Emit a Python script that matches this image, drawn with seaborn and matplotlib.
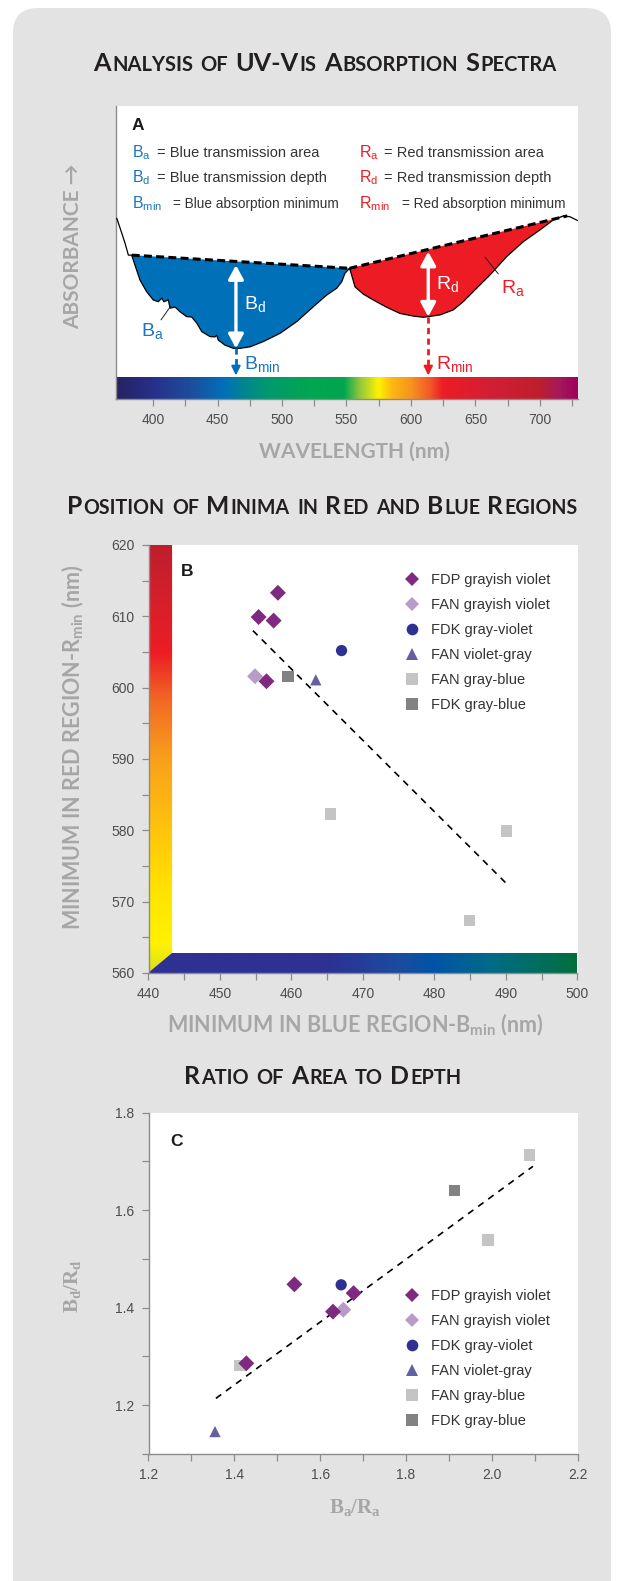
import numpy as np
import pandas as pd
import seaborn as sns
import matplotlib.pyplot as plt
from matplotlib.colors import LinearSegmentedColormap
from matplotlib.patches import FancyBboxPatch, Polygon
from matplotlib.lines import Line2D
from matplotlib.transforms import IdentityTransform
from matplotlib.ticker import FixedLocator

# ---- panel A: absorption spectrum
wl = [371.9, 375.7, 378.3, 380.9, 383.5, 386.0, 389.9, 395.1, 400.2, 404.1,
      406.7, 408.5, 411.9, 413.2, 417.1, 420.9, 426.1, 430.0, 433.9, 437.8,
      444.2, 448.1, 449.4, 450.6, 455.8, 462.2, 467.4, 475.2, 485.5, 498.4,
      511.4, 524.3, 534.7, 542.4, 546.3, 548.8, 552.4, 554.0, 556.6, 563.0,
      570.8, 581.2, 591.5, 601.8, 609.5, 613.4, 622.5, 632.8, 640.5, 650.9,
      661.2, 674.2, 687.1, 700.0, 710.3, 718.1, 723.3, 729.2]
absorb = [0.617, 0.567, 0.532, 0.491, 0.491, 0.457, 0.406, 0.366, 0.338, 0.332,
          0.344, 0.332, 0.338, 0.310, 0.314, 0.298, 0.281, 0.280, 0.259, 0.230,
          0.213, 0.212, 0.218, 0.201, 0.184, 0.173, 0.173, 0.178, 0.196, 0.224,
          0.264, 0.315, 0.355, 0.378, 0.400, 0.429, 0.446, 0.423, 0.383, 0.358,
          0.338, 0.313, 0.292, 0.283, 0.279, 0.281, 0.287, 0.304, 0.332, 0.378,
          0.423, 0.486, 0.537, 0.577, 0.611, 0.625, 0.622, 0.609]
blue_base_wl = [383.5, 552.4]
blue_base_abs = [0.491, 0.446]
red_base_wl = [552.4, 721.2]
red_base_abs = [0.446, 0.625]
b_min_wl, b_min_abs, b_base_at_min = 464.3, 0.173, 0.457
r_min_wl, r_min_abs, r_base_at_min = 613.4, 0.281, 0.503

spec_nm = [371, 400, 430, 455, 470, 490, 520, 548, 560, 575, 585, 600, 615,
           625, 660, 700, 715, 730]
spec_col = ['#262262', '#27308a', '#1d4e9e', '#0070bb', '#00858f', '#009a6e',
            '#00a651', '#00a64f', '#8dc63f', '#fff200', '#fdb913', '#f7941d',
            '#f15a29', '#ed1c24', '#d31f35', '#be1e2d', '#a6195a', '#9e005d']

# ---- panels B and C
groups = ['FDP grayish violet', 'FAN grayish violet', 'FDK gray-violet',
          'FAN violet-gray', 'FAN gray-blue', 'FDK gray-blue']
group_colors = ['#7f2a81', '#b99bc9', '#2e3192', '#6560a3', '#c4c4c4', '#828282']
group_markers = ['D', 'D', 'o', '^', 's', 's']

sample = (['FAN gray-blue'] * 3 + ['FDK gray-blue', 'FAN violet-gray',
          'FAN grayish violet', 'FDK gray-violet'] + ['FDP grayish violet'] * 4)
b_min = [465.5, 490.1, 484.9, 459.5, 463.4, 454.9, 467.0, 458.1, 455.4, 457.5, 456.5]
r_min = [582.3, 579.9, 567.4, 601.6, 601.1, 601.6, 605.2, 613.3, 609.9, 609.4, 600.9]
b_trend_x = [454.6, 490.4]
b_trend_y = [608.0, 572.2]

ba_ra = [2.088, 1.991, 1.413, 1.913, 1.355, 1.654, 1.649, 1.540, 1.678, 1.630, 1.428]
bd_rd = [1.713, 1.539, 1.281, 1.641, 1.146, 1.396, 1.447, 1.448, 1.430, 1.392, 1.286]
c_trend_x = [1.357, 2.096]
c_trend_y = [1.214, 1.690]

vert_nm = [560, 564, 572, 580, 590, 598, 605, 612, 620]
vert_col = ['#d7df23', '#fff200', '#ffe200', '#ffc40c', '#f9a01b', '#f26b25',
            '#ed1c24', '#d7202b', '#be1e2d']
horiz_nm = [440, 465, 475, 480, 488, 500]
horiz_col = ['#2e3192', '#2e3192', '#1b4c9f', '#0054a6', '#006b87', '#00703c']

sns.set_theme(style='white')
plt.rcParams['font.family'] = ['Liberation Sans', 'DejaVu Sans']
plt.rcParams['mathtext.fontset'] = 'custom'
plt.rcParams['mathtext.rm'] = 'Liberation Sans'
plt.rcParams['mathtext.bf'] = 'Liberation Serif:bold'
plt.rcParams['mathtext.sf'] = 'Lato:bold'

GRAY_LBL = '#a6a6a6'
TICK_C = '#8c8c8c'
BLUE = '#0070b8'
RED = '#ed1c24'
BLUE_TXT = '#1b75bc'

fig = plt.figure(figsize=(6.18, 15.81), dpi=100)
fig.patch.set_facecolor('white')
bg = FancyBboxPatch((13, -40), 598, 1573 + 40, boxstyle='round,pad=0,rounding_size=25',
                    transform=IdentityTransform(), fc='#e3e3e3', ec='none', zorder=-5)
fig.add_artist(bg)


def make_cmap(nm, cols):
    lo, hi = nm[0], nm[-1]
    return LinearSegmentedColormap.from_list(
        'c', [((v - lo) / (hi - lo), c) for v, c in zip(nm, cols)])


def style_axes(ax):
    sns.despine(ax=ax)
    for s in ('left', 'bottom'):
        ax.spines[s].set_color(TICK_C)
        ax.spines[s].set_linewidth(1.0)
    ax.set_facecolor('white')
    ax.tick_params(which='both', direction='out', length=5, width=0.9,
                   color=TICK_C, labelcolor='#4d4d4d', labelsize=10, pad=5,
                   left=True, bottom=True)


def smallcaps_title(text, cx, base_y, width, big=14.5, small=11.6):
    r = fig.canvas.get_renderer()
    words = text.split(' ')

    def runs(word):
        out = []
        for ch in word:
            isbig = not ch.islower()
            if out and out[-1][1] == isbig:
                out[-1][0] += ch.upper()
            else:
                out.append([ch.upper(), isbig])
        return out

    def build(scale):
        arts, x = [], 0.0
        for i, w in enumerate(words):
            if i:
                x += 0.27 * big * scale * 100 / 72
            for s, isbig in runs(w):
                fs = (big if isbig else small) * scale
                t = fig.text(x, base_y, s, transform=IdentityTransform(),
                             fontsize=fs, fontweight='bold', family='Lato',
                             color='#231f20', ha='left', va='baseline')
                x += t.get_window_extent(r).width + 0.05 * fs
                arts.append(t)
        return arts, x

    arts, total = build(1.0)
    for a in arts:
        a.remove()
    arts, total = build(width / total)
    off = cx - total / 2
    for a in arts:
        a.set_x(a.get_position()[0] + off)


# ================= Panel A =================
axA = fig.add_axes([116 / 618, 1 - 399 / 1581, 462 / 618, 293 / 1581])
style_axes(axA)
wl_a = np.array(wl)
ab_a = np.array(absorb)

mb = (wl_a >= blue_base_wl[0]) & (wl_a <= blue_base_wl[1])
axA.fill(wl_a[mb], ab_a[mb], color=BLUE, lw=0, zorder=2)
mr = (wl_a >= red_base_wl[0]) & (wl_a <= red_base_wl[1])
axA.fill(np.append(wl_a[mr], red_base_wl[1]), np.append(ab_a[mr], red_base_abs[1]),
         color=RED, lw=0, zorder=2)
sns.lineplot(x=wl, y=absorb, color='black', lw=0.9, sort=False, estimator=None,
             ax=axA, zorder=3)
axA.plot(blue_base_wl, blue_base_abs, color='black', lw=2.2, ls=(0, (2.6, 1.4)), zorder=4)
axA.plot(red_base_wl, red_base_abs, color='black', lw=2.2, ls=(0, (2.6, 1.4)), zorder=4)

spec = make_cmap(spec_nm, spec_col)
axA.imshow(np.linspace(0, 1, 512).reshape(1, -1), cmap=spec, aspect='auto',
           extent=(spec_nm[0], spec_nm[-1], 0, 0.075), zorder=1)

arrow_kw = dict(arrowstyle='<|-|>,head_length=0.7,head_width=0.38', color='white',
                lw=2.4, shrinkA=0, shrinkB=0)
axA.annotate('', xy=(b_min_wl, b_base_at_min), xytext=(b_min_wl, b_min_abs),
             arrowprops=arrow_kw, zorder=5)
axA.annotate('', xy=(r_min_wl, r_base_at_min), xytext=(r_min_wl, r_min_abs),
             arrowprops=arrow_kw, zorder=5)
for x0, y0, col in ((b_min_wl, b_min_abs, BLUE), (r_min_wl, r_min_abs, RED)):
    axA.plot([x0, x0], [y0, 0.105], color=col, lw=2.0, ls=(0, (2.2, 1.6)), zorder=5)
    axA.annotate('', xy=(x0, 0.08), xytext=(x0, 0.106),
                 arrowprops=dict(arrowstyle='-|>,head_length=0.45,head_width=0.22',
                                 color=col, lw=1.5, shrinkA=0, shrinkB=0), zorder=5)

axA.plot([406.2, 413.7], [0.270, 0.317], color='#222222', lw=0.7, zorder=5)
axA.plot([657.4, 667.7], [0.484, 0.427], color='#222222', lw=0.7, zorder=5)

lbl_kw = dict(fontsize=14, ha='left', va='baseline', zorder=6)
axA.text(470.5, 0.304, r'B$_\mathrm{d}$', color='white', **lbl_kw)
axA.text(619.4, 0.374, r'R$_\mathrm{d}$', color='white', **lbl_kw)
axA.text(390.5, 0.213, r'B$_\mathrm{a}$', color=BLUE_TXT, **lbl_kw)
axA.text(669.5, 0.358, r'R$_\mathrm{a}$', color=RED, **lbl_kw)
axA.text(470.5, 0.099, r'B$_\mathrm{min}$', color=BLUE_TXT, **lbl_kw)
axA.text(619.4, 0.099, r'R$_\mathrm{min}$', color=RED, **lbl_kw)

axA.text(0.0476, 0.935, 'A', transform=axA.transAxes, fontsize=12.5,
         fontweight='bold', color='#1a1a1a', ha='center', va='center')
key_rows = [
    (0.825, 'a', 'Blue transmission area', 'Red transmission area', 10.5, 0.0887, 0.580),
    (0.739, 'd', 'Blue transmission depth', 'Red transmission depth', 10.5, 0.0887, 0.580),
    (0.651, 'min', 'Blue absorption minimum', 'Red absorption minimum', 9.8, 0.1234, 0.618),
]
for yy, sub, btxt, rtxt, fs, bx, rx in key_rows:
    axA.text(0.0346, yy, r'B$_\mathrm{%s}$' % sub, transform=axA.transAxes,
             color=BLUE_TXT, fontsize=11.5, va='baseline')
    axA.text(bx, yy, '= ' + btxt, transform=axA.transAxes, color='#333333',
             fontsize=fs, va='baseline')
    axA.text(0.526, yy, r'R$_\mathrm{%s}$' % sub, transform=axA.transAxes,
             color=RED, fontsize=11.5, va='baseline')
    axA.text(rx, yy, '= ' + rtxt, transform=axA.transAxes, color='#333333',
             fontsize=fs, va='baseline')

axA.set_xlim(371.3, 729.5)
axA.set_ylim(0, 1)
axA.set_xticks(np.arange(400, 701, 50))
axA.xaxis.set_minor_locator(FixedLocator(np.arange(425, 726, 50)))
axA.set_yticks([])
axA.tick_params(left=False)
axA.set_xlabel('WAVELENGTH (nm)', family='Lato', fontweight='bold', fontsize=15,
               color=GRAY_LBL, va='center')
axA.xaxis.set_label_coords(0.517, -0.181)
axA.set_ylabel('ABSORBANCE \u2192', family=['Lato', 'DejaVu Sans'], fontweight='bold',
               fontsize=15, color=GRAY_LBL, va='center')
axA.yaxis.set_label_coords(-0.093, 0.52)

# ================= Panels B and C =================
palette = dict(zip(groups, group_colors))
marker_map = dict(zip(groups, group_markers))
handles = [Line2D([], [], ls='none', marker=m, color=c, markeredgewidth=0,
                  markersize=8.4 if m != 'D' else 7.4)
           for m, c in zip(group_markers, group_colors)]
leg_kw = dict(loc='upper left', frameon=False, fontsize=10.5, handlelength=1.0,
              handletextpad=0.8, labelspacing=0.76, borderpad=0, borderaxespad=0,
              labelcolor='#333333')

df = pd.DataFrame({'sample': sample, 'b_min': b_min, 'r_min': r_min,
                   'ba_ra': ba_ra, 'bd_rd': bd_rd})

axB = fig.add_axes([148.5 / 618, 1 - 973 / 1581, 429 / 618, 428 / 1581])
style_axes(axB)
vcm = make_cmap(vert_nm, vert_col)
hcm = make_cmap(horiz_nm, horiz_col)
im_v = axB.imshow(np.linspace(0, 1, 256).reshape(-1, 1), cmap=vcm, origin='lower',
                  aspect='auto', extent=(440, 443.3, 560, 620), zorder=1)
im_v.set_clip_path(Polygon([(440, 560), (443.3, 562.8), (443.3, 620), (440, 620)],
                           transform=axB.transData))
im_h = axB.imshow(np.linspace(0, 1, 256).reshape(1, -1), cmap=hcm, origin='lower',
                  aspect='auto', extent=(440, 500, 560, 562.8), zorder=1)
im_h.set_clip_path(Polygon([(440, 560), (500, 560), (500, 562.8), (443.3, 562.8)],
                           transform=axB.transData))
axB.plot(b_trend_x, b_trend_y, color='black', lw=1.2, ls=(0, (4, 3.5)), zorder=2)
sns.scatterplot(data=df, x='b_min', y='r_min', hue='sample', style='sample',
                hue_order=groups, style_order=groups, palette=palette,
                markers=marker_map, s=66, linewidth=0, legend=False, ax=axB, zorder=3)
axB.set_xlim(440, 500)
axB.set_ylim(560, 620)
axB.set_xticks(np.arange(440, 501, 10))
axB.set_yticks(np.arange(560, 621, 10))
axB.xaxis.set_minor_locator(FixedLocator(np.arange(445, 500, 10)))
axB.yaxis.set_minor_locator(FixedLocator(np.arange(565, 620, 10)))
axB.legend(handles, groups, bbox_to_anchor=(0.5972, 0.9346), **leg_kw)
axB.text(0.0897, 0.939, 'B', transform=axB.transAxes, fontsize=12.5,
         fontweight='bold', color='#1a1a1a', ha='center', va='center')
axB.set_xlabel(r'MINIMUM IN BLUE REGION-B$_{\mathsf{min}}$ (nm)', family='Lato',
               fontweight='bold', fontsize=15.5, color=GRAY_LBL, va='center')
axB.xaxis.set_label_coords(0.4825, -0.1215)
axB.set_ylabel(r'MINIMUM IN RED REGION-R$_{\mathsf{min}}$ (nm)', family='Lato',
               fontweight='bold', fontsize=15.5, color=GRAY_LBL, va='center')
axB.yaxis.set_label_coords(-0.176, 0.528)

axC = fig.add_axes([148.5 / 618, 1 - 1454 / 1581, 429.1 / 618, 341.3 / 1581])
style_axes(axC)
axC.plot(c_trend_x, c_trend_y, color='black', lw=1.2, ls=(0, (4, 3.5)), zorder=2)
sns.scatterplot(data=df, x='ba_ra', y='bd_rd', hue='sample', style='sample',
                hue_order=groups, style_order=groups, palette=palette,
                markers=marker_map, s=66, linewidth=0, legend=False, ax=axC, zorder=3)
axC.set_xlim(1.2, 2.2)
axC.set_ylim(1.1, 1.8)
axC.set_xticks(np.arange(1.2, 2.21, 0.2))
axC.set_yticks([1.2, 1.4, 1.6, 1.8])
axC.xaxis.set_minor_locator(FixedLocator(np.arange(1.3, 2.2, 0.2)))
axC.yaxis.set_minor_locator(FixedLocator([1.1, 1.3, 1.5, 1.7]))
axC.set_xticklabels(['1.2', '1.4', '1.6', '1.8', '2.0', '2.2'])
axC.set_yticklabels(['1.2', '1.4', '1.6', '1.8'])
axC.legend(handles, groups, bbox_to_anchor=(0.5972, 0.4838), **leg_kw)
axC.text(0.0664, 0.915, 'C', transform=axC.transAxes, fontsize=12.5,
         fontweight='bold', color='#1a1a1a', ha='center', va='center')
axC.set_xlabel(r'$\mathbf{B_a/R_a}$', fontsize=15, color=GRAY_LBL, va='center')
axC.xaxis.set_label_coords(0.481, -0.158)
axC.set_ylabel(r'$\mathbf{B_d/R_d}$', fontsize=15, color=GRAY_LBL, va='center')
axC.yaxis.set_label_coords(-0.176, 0.492)

# ================= Titles =================
smallcaps_title('Analysis of UV-Vis Absorption Spectra', 325.5, 1510, 465)
smallcaps_title('Position of Minima in Red and Blue Regions', 322.8, 1066.5, 510)
smallcaps_title('Ratio of Area to Depth', 323, 496.5, 278)

fig.savefig('out.png', dpi=100)
